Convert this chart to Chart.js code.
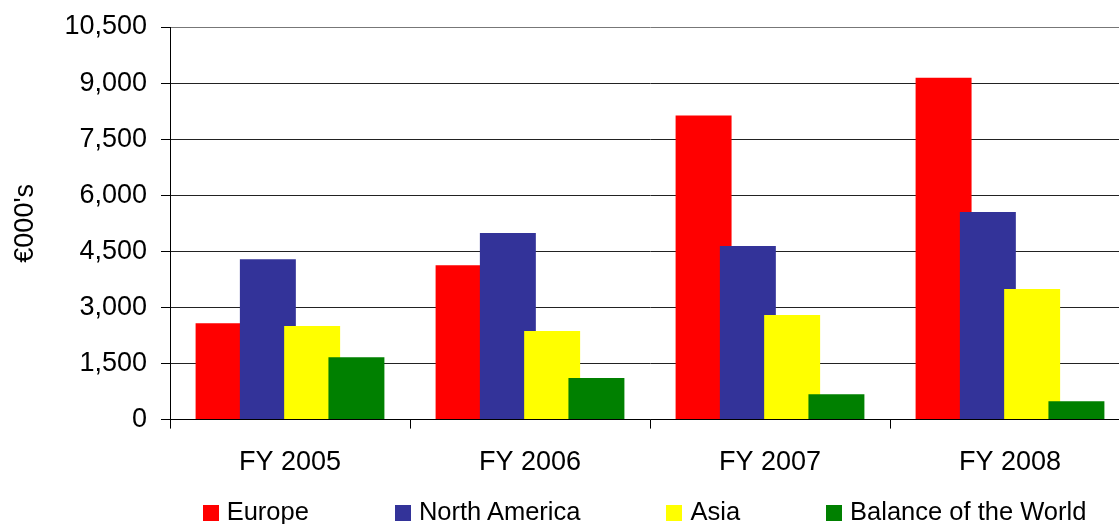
<!DOCTYPE html>
<html>
<head>
<meta charset="utf-8">
<script src="https://cdn.jsdelivr.net/npm/chart.js@4.4.1/dist/chart.umd.min.js"></script>
<style>
    html, body { margin: 0; padding: 0; background: #fff; overflow: hidden; }
    #wrap { position: relative; width: 1119px; height: 524px; overflow: hidden; }
    #box { position: absolute; left: 0; top: 0; width: 1130px; height: 524px; }
    #legend {
        position: absolute; left: 170px; width: 949px; top: 497px;
        display: flex; justify-content: center; gap: 86px;
        font-family: "Liberation Sans", Arial, sans-serif; font-size: 25.5px; color: #000;
    }
    #legend .item { display: flex; align-items: center; white-space: nowrap; }
    #legend .swatch { width: 16px; height: 16px; margin-right: 8px; margin-top: 3px; }
</style>
</head>
<body>
<div id="wrap">
    <div id="box"><canvas id="js-chart-regions"></canvas></div>
    <div id="legend"></div>
</div>
<script>
// Revenue by region (EUR 000's)
const years = ["FY 2005", "FY 2006", "FY 2007", "FY 2008"];
const europe = [2580, 4130, 8130, 9140];
const northAmerica = [4290, 4990, 4640, 5550];
const asia = [2500, 2370, 2800, 3490];
const restOfWorld = [1670, 1110, 680, 490];
const yTicks = [0, 1500, 3000, 4500, 6000, 7500, 9000, 10500];

const FONT = "'Liberation Sans', Arial, sans-serif";

document.addEventListener("DOMContentLoaded", function() {
    Chart.defaults.font.family = FONT;
    Chart.defaults.color = "#000";
    createRegionsChart();
});

// draw datasets left to right so later bars sit on top of earlier ones
const drawInOrder = {
    id: "drawInOrder",
    beforeDatasetsDraw(chart) {
        chart.getSortedVisibleDatasetMetas().forEach((meta) => meta.controller.draw());
        return false;
    }
};

function createRegionsChart() {
    const element = document.getElementById("js-chart-regions");
    if (!element) {
        console.error("Regions chart element not found!");
        return;
    }
    const chart = new Chart(element, {
        type: "bar",
        data: {
            labels: years,
            datasets: [
                { label: "Europe", backgroundColor: "#ff0000", data: europe },
                { label: "North America", backgroundColor: "#333399", data: northAmerica },
                { label: "Asia", backgroundColor: "#ffff00", data: asia },
                { label: "Balance of the World", backgroundColor: "#008000", data: restOfWorld }
            ]
        },
        options: {
            responsive: true,
            maintainAspectRatio: false,
            animation: false,
            categoryPercentage: 0.738,
            barPercentage: 1.264,
            layout: { padding: { top: 27, right: 0, bottom: 27, left: 0 } },
            scales: {
                x: {
                    grid: { offset: true, drawOnChartArea: false, color: "#000", tickLength: 9 },
                    border: { color: "#000", width: 1 },
                    ticks: { font: { size: 27 }, padding: 18, maxRotation: 0 }
                },
                y: {
                    min: 0,
                    max: 10500,
                    afterBuildTicks: (scale) => { scale.ticks = yTicks.map((v) => ({ value: v })); },
                    afterFit: (scale) => {
                        scale.width = 170;
                        scale.paddingTop = 0;
                        scale.paddingBottom = 0;
                    },
                    grid: {
                        color: (ctx) => ctx.tick && ctx.tick.value === 10500 ? "#777" : "#222",
                        tickColor: "#000",
                        tickLength: 9
                    },
                    border: { color: "#000", width: 1 },
                    ticks: {
                        font: { size: 27 },
                        padding: 14,
                        callback: (v) => v.toLocaleString("en-US")
                    },
                    title: { display: true, text: "€000's", font: { size: 27 }, padding: { top: 9, bottom: 0 } }
                }
            },
            plugins: {
                legend: { display: false },
                tooltip: { enabled: false }
            }
        },
        plugins: [drawInOrder]
    });

    // legend as text, built from the chart's own datasets
    const legend = document.getElementById("legend");
    chart.data.datasets.forEach((ds) => {
        const item = document.createElement("div");
        item.className = "item";
        const sw = document.createElement("span");
        sw.className = "swatch";
        sw.style.background = ds.backgroundColor;
        const label = document.createElement("span");
        label.textContent = ds.label;
        item.appendChild(sw);
        item.appendChild(label);
        legend.appendChild(item);
    });
}
</script>
</body>
</html>
